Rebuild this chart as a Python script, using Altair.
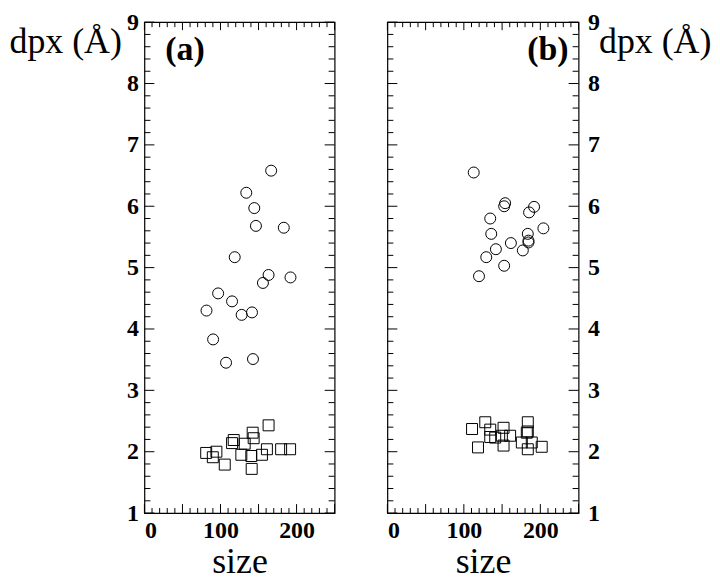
import altair as alt
import pandas as pd
import numpy as np

FONT = "Liberation Serif"

# ---------------- data ----------------
# panel (a)
a_circle_size = [166.6, 133.9, 144.4, 146.6, 183.2, 118.7, 163.2, 155.8, 192.0,
                 96.9, 115.2, 81.6, 127.8, 141.4, 90.3, 107.3, 142.7]
a_circle_dpx = [6.58, 6.22, 5.97, 5.68, 5.65, 5.17, 4.88, 4.75, 4.84,
                4.58, 4.45, 4.30, 4.23, 4.27, 3.83, 3.45, 3.51]
a_square_size = [163.2, 142.3, 143.6, 117.4, 115.2, 131.8, 81.2, 94.6, 89.9,
                 127.4, 140.5, 154.5, 161.0, 179.7, 191.5, 105.6, 141.0]
a_square_dpx = [2.43, 2.31, 2.22, 2.19, 2.14, 2.13, 1.98, 2.00, 1.91,
                1.95, 1.93, 1.95, 2.04, 2.04, 2.04, 1.79, 1.72]

# panel (b)
b_circle_size = [112.9, 154.0, 152.7, 191.8, 185.3, 134.5, 204.0, 135.8, 183.6,
                 184.5, 184.5, 161.5, 141.9, 177.1, 129.3, 152.7, 119.8]
b_circle_dpx = [6.55, 6.05, 6.00, 5.99, 5.90, 5.80, 5.64, 5.55, 5.55,
                5.44, 5.41, 5.40, 5.30, 5.28, 5.17, 5.03, 4.86]
b_square_size = [110.7, 128.0, 134.5, 151.9, 183.6, 182.3, 183.6, 134.5, 141.0,
                 149.7, 160.5, 175.8, 188.8, 118.5, 151.9, 183.6, 201.8]
b_square_dpx = [2.37, 2.48, 2.36, 2.39, 2.48, 2.31, 2.33, 2.24, 2.23,
                2.26, 2.26, 2.15, 2.15, 2.07, 2.10, 2.04, 2.08]

panel_tags = ["(a)", "(b)"]
tag_size = [27.5, 237.0]
tag_dpx = [8.55, 8.55]

x_domain = [0, 250]
y_domain = [1, 9]
x_labels = [0, 100, 200]
y_labels = [1, 2, 3, 4, 5, 6, 7, 8, 9]
x_major = [0, 50, 100, 150, 200, 250]
x_minor = [v for v in range(0, 251, 10) if v % 50 != 0]
y_major = [1, 2, 3, 4, 5, 6, 7, 8, 9]
y_minor = [round(1 + 0.2 * k, 1) for k in range(41) if k % 5 != 0]

y_title = "dpx (Å)"
x_title = "size"

W_A, W_B, H = 191, 192, 493


def panel(cs, cd, ss, sd, tag, tx, ty, side, W):
    xs = alt.Scale(domain=x_domain, nice=False, zero=False)
    ys = alt.Scale(domain=y_domain, nice=False, zero=False)

    xaxis = alt.Axis(values=x_labels, ticks=False, domain=False, grid=False,
                     labelFlush=True, labelOverlap=False, labelPadding=6,
                     labelFont=FONT, labelFontSize=24, labelFontWeight="bold",
                     labelColor="black", title=x_title, titleFont=FONT,
                     titleFontSize=36, titleFontWeight="normal", titleColor="black",
                     titlePadding=2)
    if side == "left":
        yaxis = alt.Axis(orient="left", values=y_labels, ticks=False, domain=False,
                         grid=False, labelFlush=False, labelOverlap=False,
                         labelPadding=6, labelFont=FONT, labelFontSize=24,
                         labelFontWeight="bold", labelColor="black",
                         title=y_title, titleAngle=0, titleAlign="left",
                         titleBaseline="alphabetic", titleX=-136, titleY=30,
                         titleFont=FONT, titleFontSize=36, titleFontWeight="normal",
                         titleColor="black")
    else:
        yaxis = alt.Axis(orient="right", values=y_labels, ticks=False, domain=False,
                         grid=False, labelFlush=False, labelOverlap=False,
                         labelPadding=9, labelFont=FONT, labelFontSize=24,
                         labelFontWeight="bold", labelColor="black",
                         title=y_title, titleAngle=0, titleAlign="left",
                         titleBaseline="alphabetic", titleX=20, titleY=30,
                         titleFont=FONT, titleFontSize=36, titleFontWeight="normal",
                         titleColor="black")

    circ = alt.Chart(pd.DataFrame({"size": cs, "dpx": cd})).mark_point(
        shape="circle", filled=False, size=121, color="black", strokeWidth=1, opacity=1
    ).encode(
        x=alt.X("size:Q", scale=xs, axis=xaxis),
        y=alt.Y("dpx:Q", scale=ys, axis=yaxis),
    )
    sq = alt.Chart(pd.DataFrame({"size": ss, "dpx": sd})).mark_point(
        shape="square", filled=False, size=121, color="black", strokeWidth=1, opacity=1
    ).encode(
        x=alt.X("size:Q", scale=xs, axis=None),
        y=alt.Y("dpx:Q", scale=ys, axis=None),
    )

    def yt(vals, x0, x1):
        return alt.Chart(pd.DataFrame({"v": vals})).mark_rule(
            color="black", strokeWidth=1
        ).encode(y=alt.Y("v:Q", scale=ys, axis=None),
                 x=alt.value(x0), x2=alt.value(x1))

    def xt(vals, y0, y1):
        return alt.Chart(pd.DataFrame({"v": vals})).mark_rule(
            color="black", strokeWidth=1
        ).encode(x=alt.X("v:Q", scale=xs, axis=None),
                 y=alt.value(y0), y2=alt.value(y1))

    ticks = [
        yt(y_major, 0, 10), yt(y_minor, 0, 6),
        yt(y_major, W, W - 10), yt(y_minor, W, W - 6),
        xt(x_major, H, H - 9), xt(x_minor, H, H - 5),
        xt(x_major, 0, 8), xt(x_minor, 0, 5),
    ]

    label = alt.Chart(pd.DataFrame({"t": [tag], "size": [tx], "dpx": [ty]})).mark_text(
        font=FONT, fontSize=34, fontWeight="bold", color="black",
        align="left" if side == "left" else "right", baseline="middle"
    ).encode(
        x=alt.X("size:Q", scale=xs, axis=None),
        y=alt.Y("dpx:Q", scale=ys, axis=None),
        text="t:N",
    )

    return alt.layer(circ, sq, *ticks, label).resolve_axis(
        x="independent", y="independent"
    ).properties(width=W, height=H)


pa = panel(a_circle_size, a_circle_dpx, a_square_size, a_square_dpx,
           panel_tags[0], tag_size[0], tag_dpx[0], "left", W_A)
pb = panel(b_circle_size, b_circle_dpx, b_square_size, b_square_dpx,
           panel_tags[1], tag_size[1], tag_dpx[1], "right", W_B)

chart = alt.hconcat(pa, pb, spacing=49).properties(
    padding={"left": 0, "top": 0, "right": 0, "bottom": 0},
    background="white",
).configure_view(stroke="black", strokeWidth=1.2)

chart.save("out.html", embed_options={"renderer": "svg", "actions": False})
